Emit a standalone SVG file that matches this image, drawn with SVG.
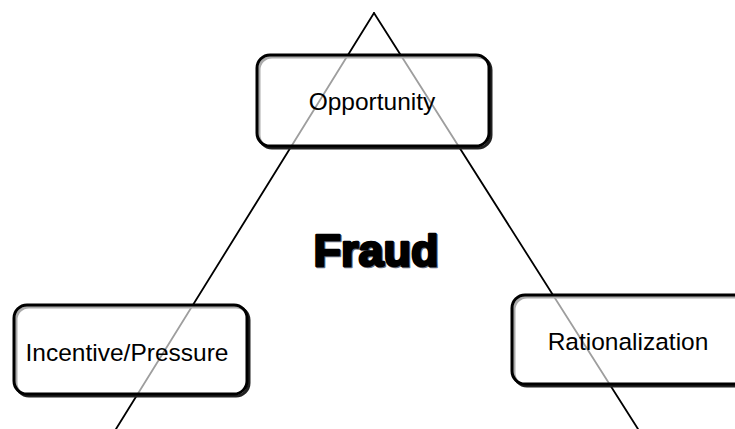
<svg xmlns="http://www.w3.org/2000/svg" width="735" height="429" viewBox="0 0 735 429">
  <style>
    .edge { stroke: #000; stroke-width: 1.8; fill: none; stroke-linecap: round; }
    .box { fill: #fff; fill-opacity: 0.62; stroke: #000; stroke-width: 3; }
    .shadow { fill: none; stroke: #222; stroke-width: 3; }
    .label { font-family: "Liberation Sans", Arial, sans-serif; font-size: 24.5px; fill: #000; text-anchor: middle; }
    .title { font-family: "Liberation Sans", Arial, sans-serif; font-weight: bold; font-size: 45px; text-anchor: middle; stroke-linejoin: round; }
  </style>
  <rect width="735" height="429" fill="#fff"/>

  <!-- triangle sides -->
  <g id="connectors">
    <line class="edge" x1="374" y1="13" x2="116" y2="429"/>
    <line class="edge" x1="374" y1="13" x2="638" y2="429"/>
  </g>

  <g id="fraud">
    <text class="title" x="376" y="266" fill="#6a7080" stroke="#6a7080" stroke-width="2.6" transform="translate(1,1)">Fraud</text>
    <text class="title" x="376" y="266" fill="#000" stroke="#000" stroke-width="2.6">Fraud</text>
  </g>

  <g id="opportunity">
    <rect class="shadow" x="259" y="57" width="232" height="91" rx="13"/>
    <rect class="box" x="257" y="55" width="232" height="91" rx="13"/>
    <text class="label" x="372" y="110">Opportunity</text>
  </g>

  <g id="incentive">
    <rect class="shadow" x="16" y="307" width="233" height="89" rx="13"/>
    <rect class="box" x="14" y="305" width="233" height="89" rx="13"/>
    <text class="label" x="127" y="361">Incentive/Pressure</text>
  </g>

  <g id="rationalization">
    <rect class="shadow" x="514" y="297" width="240" height="89" rx="13"/>
    <rect class="box" x="512" y="295" width="240" height="89" rx="13"/>
    <text class="label" x="628" y="350">Rationalization</text>
  </g>
</svg>
